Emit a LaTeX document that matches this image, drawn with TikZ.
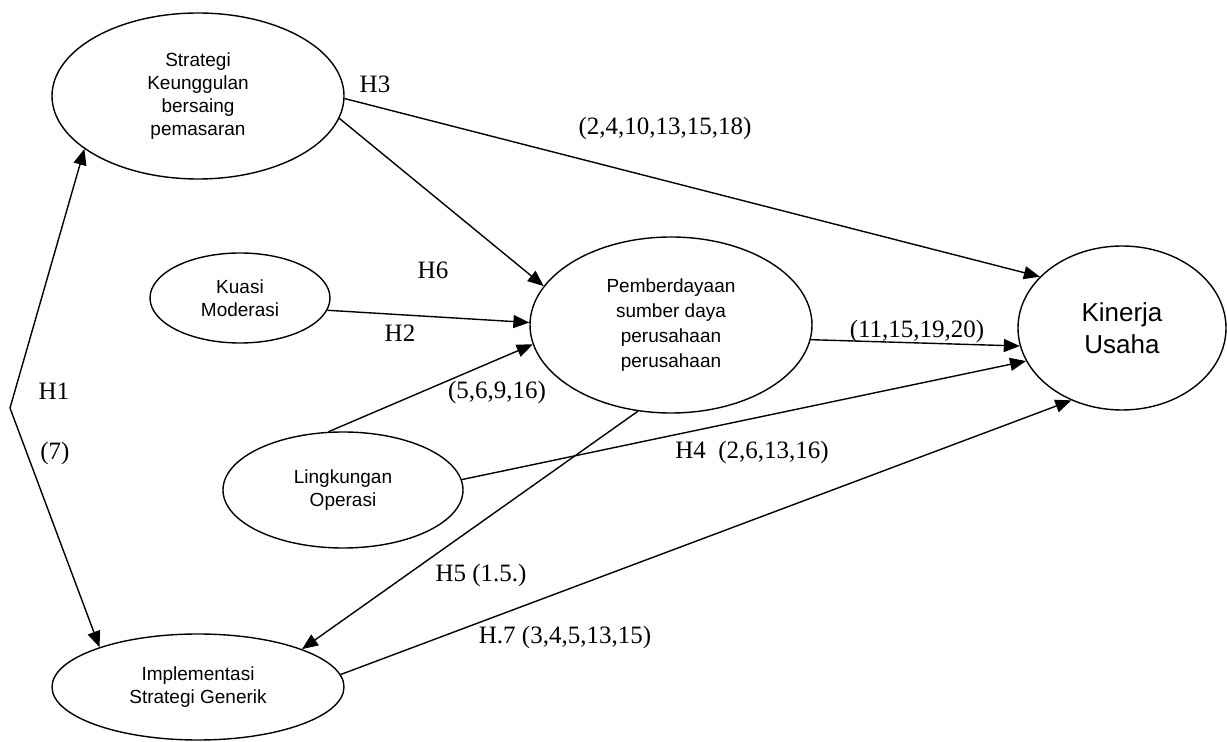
\documentclass[tikz,border=0pt]{standalone}
\usepackage{fontspec}
\setmainfont{Liberation Serif}
\setsansfont{Liberation Sans}
\usetikzlibrary{shapes.geometric, arrows.meta}

\begin{document}
\begin{tikzpicture}[x=0.5pt, y=-0.5pt,
  konstruk/.style={ellipse, draw, line width=0.7pt, inner sep=0pt, align=center, font=\sffamily\fontsize{9.5}{11.5}\selectfont},
  panah/.style={-{Triangle[length=8pt, width=6.5pt]}, line width=0.7pt},
  lbl/.style={font=\fontsize{12.5}{14}\selectfont, inner sep=0pt},
]
  \useasboundingbox (0,0) rectangle (1227,742);

  \node[konstruk, minimum width=146pt, minimum height=83pt] (strategi) at (198,96) {Strategi\\Keunggulan\\bersaing\\pemasaran};
  \node[konstruk, minimum width=90pt, minimum height=45pt] (kuasi) at (240,298) {Kuasi\\Moderasi};
  \node[konstruk, minimum width=141pt, minimum height=88pt, font=\sffamily\fontsize{9.5}{12.5}\selectfont] (berdaya) at (671,325) {Pemberdayaan\\sumber daya\\perusahaan\\perusahaan};
  \node[konstruk, minimum width=104pt, minimum height=82pt, font=\sffamily\fontsize{13}{16}\selectfont] (kinerja) at (1122,328) {Kinerja\\Usaha};
  \node[konstruk, minimum width=120pt, minimum height=58pt] (lingkungan) at (343,490) {Lingkungan\\Operasi};
  \node[konstruk, minimum width=146pt, minimum height=53pt] (implementasi) at (198,687) {Implementasi\\Strategi Generik};

  \coordinate (tekuk) at (10,408);

  \draw[panah] (tekuk) -- (strategi.205);
  \draw[panah] (tekuk) -- (implementasi.158);
  \draw[panah] (strategi.-1) -- (kinerja.148);
  \draw[panah] (strategi.-9) -- (berdaya.163);
  \draw[panah] (kuasi.-8) -- (berdaya.179);
  \draw[panah] (lingkungan.104) -- (berdaya.188);
  \draw[panah] (berdaya.-6) -- (kinerja.190);
  \draw[panah] (lingkungan.5) -- (kinerja.199);
  \draw[panah] (berdaya.249) -- (implementasi.20);
  \draw[panah] (implementasi.5) -- (kinerja.235);

  \node[lbl] (lblH3) at (375,84) {H3};
  \node[lbl] (lblH3ref) at (665,128) {(2,4,10,13,15,18)};
  \node[lbl] (lblH6) at (433,270) {H6};
  \node[lbl] (lblH2) at (400,333) {H2};
  \node[lbl] (lblH1) at (54,391) {H1};
  \node[lbl] (lblH1ref) at (55,453) {(7)};
  \node[lbl] (lblH2ref) at (497,392) {(5,6,9,16)};
  \node[lbl] (lblH4) at (752,452) {H4\ \ (2,6,13,16)};
  \node[lbl] (lblH5) at (481,575) {H5 (1.5.)};
  \node[lbl] (lblH7) at (565,637) {H.7 (3,4,5,13,15)};
  \node[lbl] (lblKin) at (917,331) {(11,15,19,20)};
\end{tikzpicture}
\end{document}
